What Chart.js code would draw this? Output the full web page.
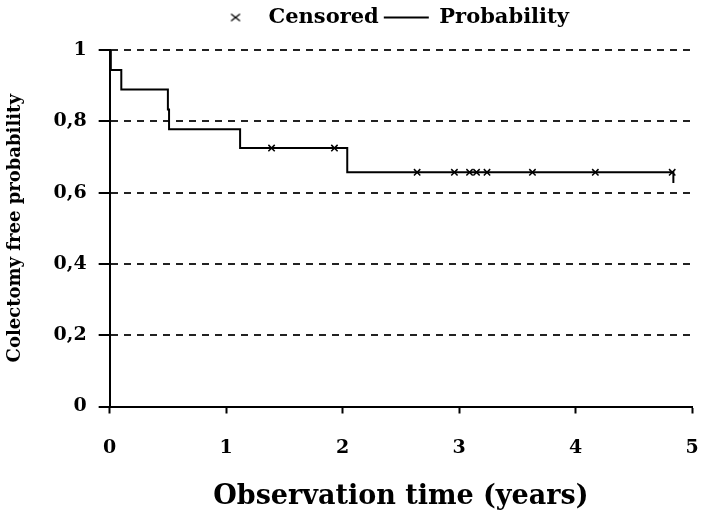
<!DOCTYPE html>
<html>
<head>
<meta charset="utf-8">
<script src="https://cdn.jsdelivr.net/npm/chart.js@4"></script>
<style>
  body { margin: 0; background: #fff; }
  #wrap { width: 702px; height: 512px; }
</style>
</head>
<body>
<div id="wrap"><canvas id="kmChart" width="702" height="512"></canvas></div>
<script>
// Kaplan-Meier step points (time in years, probability)
const stepTimes = [0, 0.01, 0.10, 0.50, 0.51, 1.12, 2.04, 4.84];
const stepProbs = [1, 0.944, 0.889, 0.833, 0.778, 0.725, 0.657, 0.627];

// censored observations
const censorTimes = [1.39, 1.93, 2.64, 2.96, 3.09, 3.15, 3.24, 3.63, 4.17, 4.83];
const censorProbs = [0.725, 0.725, 0.657, 0.657, 0.657, 0.657, 0.657, 0.657, 0.657, 0.657];

const yTickLabels = ['0', '0,2', '0,4', '0,6', '0,8', '1'];
const xTickLabels = ['0', '1', '2', '3', '4', '5'];

const serif = '"DejaVu Serif", "Liberation Serif", serif';

// small x used as the legend symbol for censored times
const crossIcon = document.createElement('canvas');
crossIcon.width = 12;
crossIcon.height = 10;
const ic = crossIcon.getContext('2d');
ic.strokeStyle = '#000';
ic.lineWidth = 1.3;
ic.beginPath();
ic.moveTo(1.5, 1.5); ic.lineTo(10.5, 8.5);
ic.moveTo(10.5, 1.5); ic.lineTo(1.5, 8.5);
ic.stroke();

// push the legend a bit right and leave some room under it
const legendTweak = {
    id: 'legendTweak',
    beforeInit(chart) {
        const fit = chart.legend.fit;
        chart.legend.fit = function () {
            fit.call(this);
            this.height += 12;
        };
    },
    afterLayout(chart) {
        chart.legend.left += 40;
        chart.legend.right += 40;
    }
};

const ctx = document.getElementById('kmChart').getContext('2d');
const kmChart = new Chart(ctx, {
    type: 'line',
    data: {
        datasets: [
            {
                label: 'Censored',
                data: censorTimes.map((t, i) => ({ x: t, y: censorProbs[i] })),
                showLine: false,
                pointStyle: 'crossRot',
                pointRadius: 4.5,
                pointBorderWidth: 1.5,
                borderColor: '#000',
                backgroundColor: '#000'
            },
            {
                label: 'Probability',
                data: stepTimes.map((t, i) => ({ x: t, y: stepProbs[i] })),
                stepped: 'before',
                borderColor: '#000',
                backgroundColor: '#000',
                borderWidth: 2,
                pointRadius: 0,
                pointStyle: 'line'
            }
        ]
    },
    plugins: [legendTweak],
    options: {
        responsive: false,
        animation: false,
        layout: { padding: { left: 0, right: 0, top: 2, bottom: 0 } },
        plugins: {
            legend: {
                position: 'top',
                labels: {
                    usePointStyle: true,
                    pointStyleWidth: 45,
                    boxHeight: 10,
                    color: '#000',
                    padding: 5,
                    font: { family: serif, size: 21, weight: 'bold' },
                    generateLabels(chart) {
                        const items = Chart.defaults.plugins.legend.labels.generateLabels(chart);
                        items[0].pointStyle = crossIcon;
                        return items;
                    }
                }
            },
            tooltip: { enabled: false }
        },
        scales: {
            x: {
                type: 'linear',
                min: 0,
                max: 5,
                afterFit(scale) { scale.paddingRight = 10; },
                ticks: {
                    stepSize: 1,
                    color: '#000',
                    padding: 23,
                    font: { family: serif, size: 19, weight: 'bold' },
                    callback: (v, i) => xTickLabels[i]
                },
                grid: { drawOnChartArea: false, drawTicks: true, tickLength: 7, tickColor: '#000', tickWidth: 2 },
                border: { color: '#000', width: 2 },
                title: {
                    display: true,
                    text: 'Observation time (years)',
                    color: '#000',
                    padding: { top: 0, bottom: 0 },
                    font: { family: serif, size: 27, weight: 'bold', lineHeight: 1.1 }
                }
            },
            y: {
                min: 0,
                max: 1,
                ticks: {
                    stepSize: 0.2,
                    color: '#000',
                    padding: 12,
                    font: { family: serif, size: 19, weight: 'bold' },
                    callback: (v, i) => yTickLabels[i]
                },
                grid: {
                    color: '#222',
                    lineWidth: 2,
                    tickBorderDash: [],
                    tickLength: 11,
                    tickColor: '#000',
                    tickWidth: 2
                },
                border: { color: '#000', width: 2, dash: [7, 6] },
                title: {
                    display: true,
                    text: 'Colectomy free probability',
                    color: '#000',
                    padding: { top: 5, bottom: 15 },
                    font: { family: serif, size: 18, weight: 'bold' }
                }
            }
        }
    }
});
</script>
</body>
</html>
